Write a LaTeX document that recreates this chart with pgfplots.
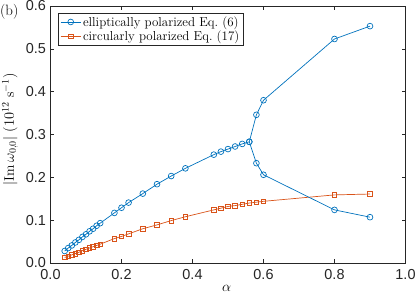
\documentclass[border=0pt]{standalone}
\usepackage{fontspec}
\setsansfont{Liberation Sans}
\usepackage{pgfplots}
\pgfplotsset{compat=1.18}
\definecolor{mblue}{rgb}{0,0.447,0.741}
\definecolor{morange}{rgb}{0.85,0.325,0.098}
\begin{document}
\begin{tikzpicture}
\begin{axis}[
  name=ax,
  scale only axis, width=355bp, height=257bp,
  xmin=0, xmax=1, ymin=0, ymax=0.6,
  xtick={0,0.2,0.4,0.6,0.8,1.0},
  ytick={0,0.1,0.2,0.3,0.4,0.5,0.6},
  /pgf/number format/assume math mode=true,
  /pgf/number format/.cd, fixed, fixed zerofill, precision=1, /pgfplots/.cd,
  ticklabel style={font=\sffamily\fontsize{14.5}{15}\selectfont, color=black!85},
  xticklabel style={yshift=-3bp},
  yticklabel style={xshift=-1bp},
  tick align=inside, tick pos=both, major tick length=3.5bp,
  tick style={black!85, line width=0.5pt},
  axis line style={black!85, line width=0.5pt},
  xlabel={$\alpha$},
  ylabel={$|\mathrm{Im}\,\omega_{0,0}|\ (10^{12}\ \mathrm{s}^{-1})$},
  label style={font=\fontsize{14}{15}\selectfont},
  xlabel style={at={(axis description cs:0.496,-0.1)}, anchor=center},
  ylabel style={at={(axis description cs:-0.114,0.52)}, anchor=center},
  legend style={at={(axis cs:0.0215,0.5845)}, anchor=north west, draw=black!85, line width=0.5pt,
    font=\fontsize{13}{15}\selectfont, inner xsep=2pt, inner ysep=1.5pt, row sep=-1pt},
  legend cell align=left,
  legend image code/.code={\draw[#1] (0pt,0pt) -- (20bp,0pt); \draw[#1, mark repeat=1] plot coordinates {(10bp,0pt)};},
]
\addplot[mblue, line width=0.7pt, mark=o, mark size=2.9pt, mark options={solid, line width=0.7pt}] coordinates {
(0.04,0.028) (0.05,0.035) (0.06,0.041) (0.07,0.048) (0.08,0.054) (0.09,0.061) (0.10,0.067)
(0.11,0.074) (0.12,0.080) (0.13,0.087) (0.14,0.093)
(0.18,0.117) (0.20,0.129) (0.22,0.141) (0.26,0.162) (0.30,0.184) (0.34,0.203) (0.38,0.221)
(0.46,0.253) (0.48,0.260) (0.50,0.266) (0.52,0.272) (0.54,0.278) (0.56,0.283)
(0.58,0.346) (0.60,0.380) (0.80,0.523) (0.90,0.553)
};
\addlegendentry{elliptically polarized Eq.\ (6)}
\addplot[morange, line width=0.7pt, mark=square, mark size=2.3pt, mark options={solid, line width=0.7pt}] coordinates {
(0.04,0.013) (0.05,0.016) (0.06,0.019) (0.07,0.022) (0.08,0.025) (0.09,0.029) (0.10,0.032)
(0.11,0.035) (0.12,0.038) (0.13,0.041) (0.14,0.044)
(0.18,0.057) (0.20,0.062) (0.22,0.068) (0.26,0.080) (0.30,0.089) (0.34,0.099) (0.38,0.108)
(0.46,0.124) (0.48,0.128) (0.50,0.132) (0.52,0.134) (0.54,0.137) (0.56,0.140) (0.58,0.142) (0.60,0.144)
(0.80,0.159) (0.90,0.161)
};
\addlegendentry{circularly polarized Eq.\ (17)}
\addplot[mblue, line width=0.7pt, mark=o, mark size=2.9pt, mark options={solid, line width=0.7pt}, forget plot] coordinates {
(0.56,0.283) (0.58,0.233) (0.60,0.206) (0.80,0.124) (0.90,0.107)
};
\end{axis}
\node[anchor=north west, inner sep=0pt, font=\fontsize{15}{16}\selectfont] at ([xshift=-50.5bp,yshift=1.5bp]ax.north west) {(b)};
\pgfresetboundingbox
\path[use as bounding box] ([xshift=-50.5bp,yshift=-31bp]ax.south west) rectangle ([xshift=9.5bp,yshift=6bp]ax.north east);
\end{tikzpicture}
\end{document}
